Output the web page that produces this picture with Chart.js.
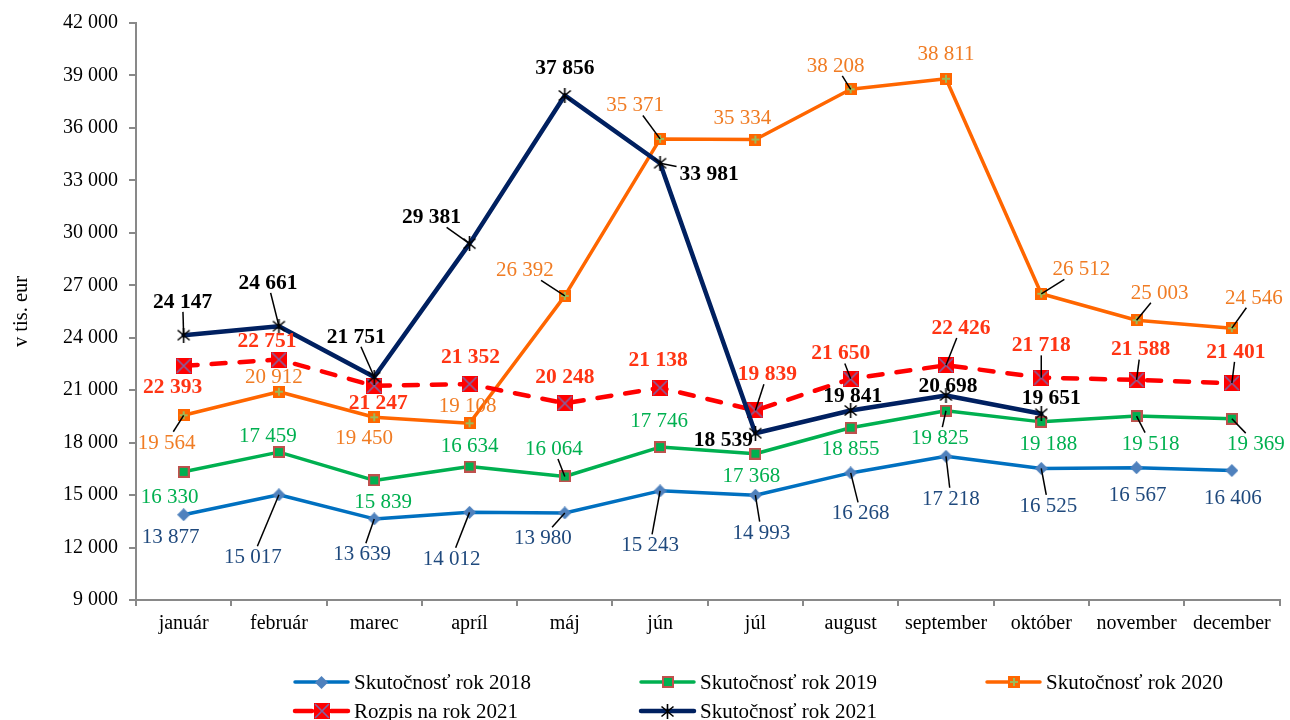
<!DOCTYPE html>
<html>
<head>
<meta charset="utf-8">
<script src="https://cdn.jsdelivr.net/npm/chart.js@4/dist/chart.umd.min.js"></script>
<style>
html,body{margin:0;padding:0;background:#fff;}
#wrap{width:1290px;height:720px;}
</style>
</head>
<body>
<div id="wrap"><canvas id="c" width="1290" height="720"></canvas></div>
<script>
// ---- data ----
const months = ['január','február','marec','apríl','máj','jún','júl','august','september','október','november','december'];
const seriesNames = ['Skutočnosť rok 2018','Skutočnosť rok 2019','Skutočnosť rok 2020','Rozpis na rok 2021','Skutočnosť rok 2021'];
const skut2018 = [13877,15017,13639,14012,13980,15243,14993,16268,17218,16525,16567,16406];
const skut2019 = [16330,17459,15839,16634,16064,17746,17368,18855,19825,19188,19518,19369];
const skut2020 = [19564,20912,19450,19108,26392,35371,35334,38208,38811,26512,25003,24546];
const rozpis2021 = [22393,22751,21247,21352,20248,21138,19839,21650,22426,21718,21588,21401];
const skut2021 = [24147,24661,21751,29381,37856,33981,18539,19841,20698,19651,null,null];
const yMin = 9000, yMax = 42000, yStep = 3000;
const yTitle = 'v tis. eur';

// ---- label placement (pixel offsets from point, leader flag) ----
const lbl2018 = [[-13,22,0],[-26,62,1],[-12,35,1],[-18,46,1],[-22,25,1],[-10,54,1],[6,37,1],[10,40,1],[5,42,1],[7,37,1],[1,27,0],[1,27,0]];
const lbl2019 = [[-14,25,0],[-11,-17,0],[9,21,0],[0,-21,0],[-11,-28,1],[-1,-27,0],[-4,22,0],[0,21,0],[-6,27,1],[7,22,0],[14,27,1],[24,25,1]];
const lbl2020 = [[-17,27,1],[-5,-15,0],[-10,20,0],[-2,-18,0],[-40,-26,1],[-25,-34,1],[-13,-22,0],[-15,-24,1],[0,-25,0],[40,-25,1],[23,-28,1],[22,-31,1]];
const lblR21 = [[-11,21,0],[-12,-19,0],[4,17,0],[1,-28,0],[0,-27,0],[-2,-28,0],[12,-37,1],[-10,-26,1],[15,-38,1],[0,-33,1],[4,-31,1],[4,-32,1]];
const lbl2021 = [[-1,-34,1],[-11,-44,1],[-18,-41,1],[-38,-27,1],[0,-28,0],[49,10,1],[-32,6,0],[2,-15,0],[2,-10,0],[10,-16,0]];

function fmt(v){ return String(v).replace(/\B(?=(\d{3})+(?!\d))/g,' '); }

// ---- markers ----
function mk(w,h,draw){ const c=document.createElement('canvas'); c.width=w; c.height=h; draw(c.getContext('2d'),w,h); return c; }
const mDiamond = mk(13,13,(g,w,h)=>{ g.fillStyle='#4F81BD'; g.beginPath(); g.moveTo(w/2,0); g.lineTo(w,h/2); g.lineTo(w/2,h); g.lineTo(0,h/2); g.closePath(); g.fill(); });
const mSq2019 = mk(12,12,(g,w,h)=>{ g.fillStyle='#00B050'; g.fillRect(0,0,w,h); g.strokeStyle='#C0504D'; g.lineWidth=2; g.strokeRect(1,1,w-2,h-2); });
const mSq2020 = mk(12,12,(g,w,h)=>{ g.fillStyle='#FF6600'; g.fillRect(0,0,w,h); g.strokeStyle='#9BBB59'; g.lineWidth=2; g.beginPath(); g.moveTo(w/2,2); g.lineTo(w/2,h-2); g.moveTo(2,h/2); g.lineTo(w-2,h/2); g.stroke(); });
const mSqR = mk(16,16,(g,w,h)=>{ g.fillStyle='#FF0000'; g.fillRect(0,0,w,h); g.strokeStyle='#8064A2'; g.lineWidth=1.6; g.beginPath(); g.moveTo(1,1); g.lineTo(w-1,h-1); g.moveTo(w-1,1); g.lineTo(1,h-1); g.stroke(); });
const mStar = mk(15,15,(g,w,h)=>{ g.strokeStyle='#000'; g.lineWidth=1.6; g.beginPath(); g.moveTo(1.5,2.5); g.lineTo(w-1.5,h-2.5); g.moveTo(w-1.5,2.5); g.lineTo(1.5,h-2.5); g.moveTo(w/2,0); g.lineTo(w/2,h); g.stroke(); });

const FONT = 'Liberation Serif, Times New Roman, serif';

const styles = [
  {color:'#0070C0', width:3.5, dash:[], marker:mDiamond, lblColor:'#1F497D', bold:false, lbl:lbl2018},
  {color:'#00B050', width:3.5, dash:[], marker:mSq2019, lblColor:'#00B050', bold:false, lbl:lbl2019},
  {color:'#FF6600', width:3.5, dash:[], marker:mSq2020, lblColor:'#F07C24', bold:false, lbl:lbl2020},
  {color:'#FF0000', width:4.5, dash:[14,14], marker:mSqR, lblColor:'#FF3514', bold:true, lbl:lblR21},
  {color:'#002060', width:4.5, dash:[], marker:mStar, lblColor:'#000000', bold:true, lbl:lbl2021}
];
const values = [skut2018, skut2019, skut2020, rozpis2021, skut2021];

const datasets = values.map((v,i)=>({
  label: seriesNames[i],
  data: v,
  borderColor: styles[i].color,
  backgroundColor: styles[i].color,
  borderWidth: styles[i].width,
  borderDash: styles[i].dash,
  borderCapStyle: 'round',
  borderJoinStyle: 'round',
  pointStyle: styles[i].marker,
  pointRadius: 6,
  tension: 0,
  spanGaps: false,
  order: 5 - i
}));

const labelPlugin = {
  id: 'valueLabels',
  afterDatasetsDraw(chart){
    const ctx = chart.ctx;
    ctx.save();
    const items = [];
    chart.data.datasets.forEach((ds, di)=>{
      const meta = chart.getDatasetMeta(di);
      const st = styles[di];
      meta.data.forEach((pt, j)=>{
        const v = ds.data[j];
        if (v === null || v === undefined) return;
        const o = st.lbl[j]; if (!o) return;
        const size = st.bold ? 21.5 : 21;
        ctx.font = (st.bold ? 'bold ' : '') + size + 'px ' + FONT;
        const txt = fmt(v);
        const w = ctx.measureText(txt).width;
        items.push({x:pt.x, y:pt.y, cx:pt.x+o[0], cy:pt.y+o[1], leader:o[2], txt, w, size, st});
      });
    });
    // leaders
    ctx.strokeStyle = '#000'; ctx.lineWidth = 1.5; ctx.setLineDash([]);
    items.forEach(it=>{
      if (!it.leader) return;
      const dx = it.cx - it.x, dy = it.cy - it.y;
      const hw = it.w/2 + 3, hh = it.size*0.36 + 3;
      let s = 0;
      if (Math.abs(dx) > 0.01) s = Math.max(s, 1 - hw/Math.abs(dx));
      if (Math.abs(dy) > 0.01) s = Math.max(s, 1 - hh/Math.abs(dy));
      s = Math.min(Math.max(s,0),1);
      ctx.beginPath(); ctx.moveTo(it.x, it.y); ctx.lineTo(it.x + dx*s, it.y + dy*s); ctx.stroke();
    });
    // texts
    ctx.textAlign = 'center'; ctx.textBaseline = 'middle';
    items.forEach(it=>{
      ctx.font = (it.st.bold ? 'bold ' : '') + it.size + 'px ' + FONT;
      ctx.fillStyle = it.st.lblColor;
      ctx.fillText(it.txt, it.cx, it.cy + 1);
    });
    ctx.restore();
  }
};

const legendCols = [295, 641, 987];
const legendRows = [682, 711];
const legendPos = [[0,0],[1,0],[2,0],[0,1],[1,1]];
const legendPlugin = {
  id: 'customLegend',
  afterDraw(chart){
    const ctx = chart.ctx;
    ctx.save();
    chart.data.datasets.forEach((ds, i)=>{
      const st = styles[i];
      const x0 = legendCols[legendPos[i][0]], y = legendRows[legendPos[i][1]];
      const len = 53;
      ctx.strokeStyle = st.color; ctx.lineWidth = st.width; ctx.lineCap = 'round';
      ctx.setLineDash([]);
      ctx.beginPath();
      if (st.dash.length) {
        ctx.moveTo(x0, y); ctx.lineTo(x0 + 17, y);
        ctx.moveTo(x0 + len - 17, y); ctx.lineTo(x0 + len, y);
      } else {
        ctx.moveTo(x0, y); ctx.lineTo(x0 + len, y);
      }
      ctx.stroke();
      const m = st.marker;
      ctx.drawImage(m, Math.round(x0 + len/2 - m.width/2), Math.round(y - m.height/2));
      ctx.fillStyle = '#000'; ctx.font = '21px ' + FONT;
      ctx.textAlign = 'left'; ctx.textBaseline = 'middle';
      ctx.fillText(ds.label, x0 + len + 6, y + 1);
    });
    ctx.restore();
  }
};

new Chart(document.getElementById('c'), {
  type: 'line',
  data: { labels: months, datasets },
  options: {
    responsive: false,
    animation: false,
    events: [],
    layout: { padding: { top: 21, right: 7, bottom: 80, left: 0 } },
    plugins: { legend: { display: false }, tooltip: { enabled: false } },
    scales: {
      x: {
        offset: true,
        grid: { offset: true, drawOnChartArea: false, drawTicks: true, tickLength: 6, color: '#898989', lineWidth: 2 },
        border: { display: true, color: '#898989', width: 2 },
        ticks: { color: '#000', font: { family: FONT, size: 20 }, padding: 6, maxRotation: 0, autoSkip: false },
        afterFit(scale){ scale.height = 40; }
      },
      y: {
        min: yMin, max: yMax,
        grid: { drawOnChartArea: false, drawTicks: true, tickLength: 7, color: '#898989', lineWidth: 2 },
        border: { display: true, color: '#898989', width: 2 },
        ticks: { stepSize: yStep, color: '#000', font: { family: FONT, size: 20 }, padding: 11, callback: v => fmt(v) },
        title: { display: true, text: yTitle, color: '#000', font: { family: FONT, size: 20.5 }, padding: { top: 9, bottom: 0 } },
        afterFit(scale){ scale.width = 136; }
      }
    }
  },
  plugins: [labelPlugin, legendPlugin]
});
</script>
</body>
</html>
